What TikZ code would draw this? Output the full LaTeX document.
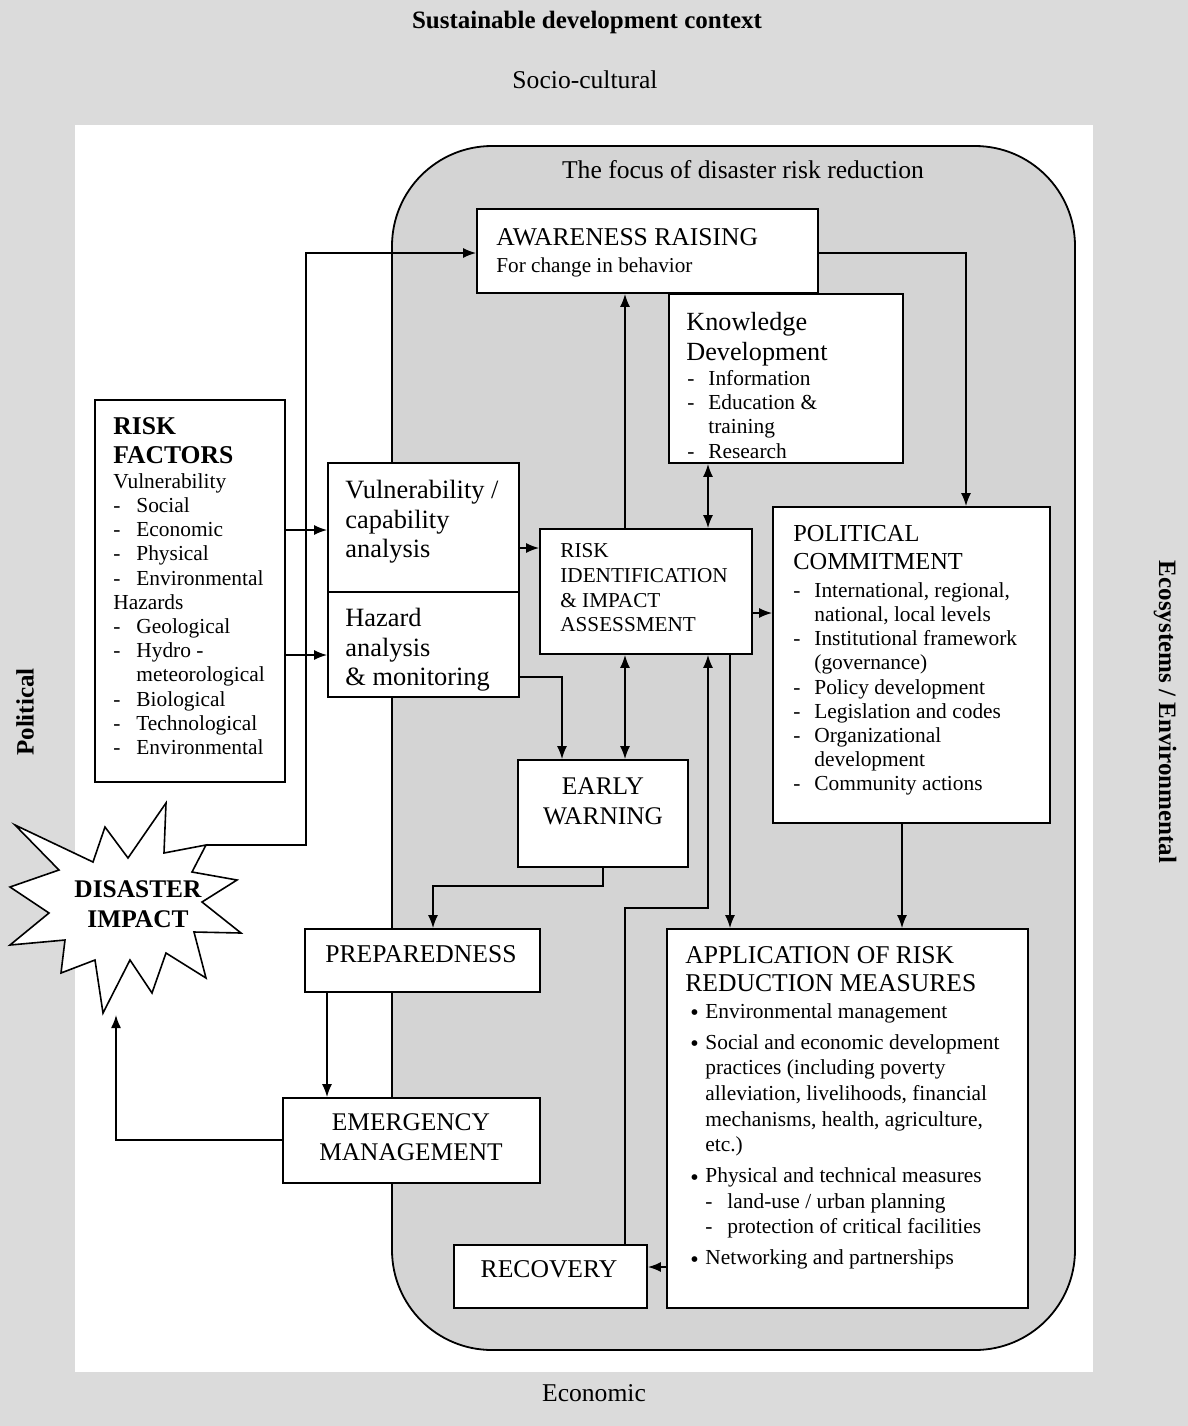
\documentclass[tikz,border=0pt]{standalone}
\usepackage{fontspec}
\setmainfont{Liberation Serif}
\usetikzlibrary{arrows.meta,fit}

% list helpers: dash item, continuation indent, bullet item
\newcommand\dashit[1][10.5pt]{\makebox[#1][l]{-}}
\newcommand\contit[1][10.5pt]{\hspace*{#1}}
\newcommand\bulit{\makebox[7.5pt][l]{\raisebox{-1.3pt}{\large\textbullet}}}

\begin{document}
\begin{tikzpicture}[x=0.5pt,y=-0.5pt,
  box/.style={draw, line width=0.9pt, fill=white, inner sep=0pt},
  conn/.style={line width=0.8pt},
  tip/.tip={Latex[length=6.5pt,width=5pt]},
  arr/.style={conn, -tip},
  dbl/.style={conn, tip-tip},
  head/.style={font=\fontsize{12.8}{14}\selectfont, align=left, inner sep=0pt, anchor=north west},
  body/.style={font=\fontsize{10.7}{12.1}\selectfont, align=left, inner sep=0pt, anchor=north west},
  ctr/.style={font=\fontsize{12.8}{15}\selectfont, align=center, inner sep=0pt, anchor=north},
  lbl/.style={font=\fontsize{12.8}{14}\selectfont, inner sep=0pt},
]
% context bands and inner field
\path[use as bounding box] (0,0) rectangle (1188,1426);
\fill[black!14] (0,0) rectangle (1188,1426);
\fill[white] (75,125) rectangle (1093,1372);
\draw[line width=0.9pt, fill=black!17, rounded corners=50pt] (392,146) rectangle (1075,1350);

% context labels
\node[lbl, font=\bfseries\fontsize{12.5}{14}\selectfont] (sdc) at (587,22) {Sustainable development context};
\node[lbl] (soc) at (585,80) {Socio-cultural};
\node[lbl] (foc) at (743,170) {The focus of disaster risk reduction};
\node[lbl] (eco) at (594,1393) {Economic};
\node[lbl, font=\bfseries\fontsize{12.5}{14}\selectfont, rotate=90] (pol) at (25,712) {Political};
\node[lbl, font=\bfseries\fontsize{12.5}{14}\selectfont, rotate=-90] (env) at (1165,712) {Ecosystems / Environmental};

% boxes
\node[box, fit={(477,209)(818,293)}] (aw) {};
\node[box, fit={(669,294)(903,463)}] (kd) {};
\node[box, fit={(95,400)(285,782)}] (rf) {};
\node[box, fit={(328,463)(519,592)}] (va) {};
\node[box, fit={(328,592)(519,697)}] (ha) {};
\node[box, fit={(540,529)(752,654)}] (ri) {};
\node[box, fit={(518,760)(688,867)}] (ew) {};
\node[box, fit={(773,507)(1050,823)}] (pc) {};
\node[box, fit={(305,929)(540,992)}] (pr) {};
\node[box, fit={(283,1098)(540,1183)}] (em) {};
\node[box, fit={(667,929)(1028,1308)}] (ap) {};
\node[box, fit={(454,1245)(647,1308)}] (rc) {};

% disaster impact burst
\draw[line width=0.8pt, fill=white]
  (15,825) -- (93,862) -- (105,827) -- (128,858) -- (166,803) -- (164,853)
  -- (206,845) -- (192,872) -- (237,880) -- (202,902) -- (241,933) -- (194,932)
  -- (206,978) -- (166,953) -- (152,993) -- (130,960) -- (103,1013) -- (95,960)
  -- (61,973) -- (65,940) -- (10,945) -- (49,913) -- (10,887) -- (59,870) -- cycle;
\coordinate (burstne) at (206,845);
\coordinate (burstin) at (116,1015);
\node[ctr, font=\bfseries\fontsize{12.7}{15}\selectfont] (dit) at (138,880) {DISASTER\\IMPACT};

% box texts
\node[head] (awh) at (496,228) {AWARENESS RAISING};
\node[body, font=\fontsize{10.6}{12}\selectfont] (aws) at (496,257) {For change in behavior};

\node[head, font=\fontsize{13.1}{15}\selectfont] (kdh) at (686,312) {Knowledge\\Development};
\node[body] (kdb) at (687,370) {\dashit Information\\\dashit Education \&\\\contit training\\\dashit Research};

\node[head, font=\bfseries\fontsize{12.8}{14.5}\selectfont] (rfh) at (113,417) {RISK\\FACTORS};
\node[body] (rfb) at (113,473) {Vulnerability\\
  \dashit[11.5pt]Social\\
  \dashit[11.5pt]Economic\\
  \dashit[11.5pt]Physical\\
  \dashit[11.5pt]Environmental\\
  Hazards\\
  \dashit[11.5pt]Geological\\
  \dashit[11.5pt]Hydro -\\
  \contit[11.5pt]meteorological\\
  \dashit[11.5pt]Biological\\
  \dashit[11.5pt]Technological\\
  \dashit[11.5pt]Environmental};

\node[head, font=\fontsize{13.2}{14.8}\selectfont] (vat) at (345,480) {Vulnerability /\\capability\\analysis};
\node[head, font=\fontsize{13.2}{14.8}\selectfont] (hat) at (345,608) {Hazard\\analysis\\\& monitoring};

\node[body, font=\fontsize{10.6}{12.4}\selectfont] (rit) at (560,543) {RISK\\IDENTIFICATION\\\& IMPACT\\ASSESSMENT};

\node[ctr, font=\fontsize{12.7}{15}\selectfont] (ewt) at (603,777) {EARLY\\WARNING};

\node[head, font=\fontsize{12.2}{14}\selectfont] (pch) at (793,525) {POLITICAL\\COMMITMENT};
\node[body] (pcb) at (793,582) {\dashit International, regional,\\
  \contit national, local levels\\
  \dashit Institutional framework\\
  \contit (governance)\\
  \dashit Policy development\\
  \dashit Legislation and codes\\
  \dashit Organizational\\
  \contit development\\
  \dashit Community actions};

\node[head, font=\fontsize{12.8}{14}\selectfont] (aph) at (685,946) {APPLICATION OF RISK\\REDUCTION MEASURES};
\node[body, font=\fontsize{10.7}{12.8}\selectfont] (apb) at (690,1003) {\bulit Environmental management\\[2.7pt]
  \bulit Social and economic development\\
  \contit[7.5pt]practices (including poverty\\
  \contit[7.5pt]alleviation, livelihoods, financial\\
  \contit[7.5pt]mechanisms, health, agriculture,\\
  \contit[7.5pt]etc.)\\[2.7pt]
  \bulit Physical and technical measures\\
  \contit[7.5pt]\dashit[11pt]land-use / urban planning\\
  \contit[7.5pt]\dashit[11pt]protection of critical facilities\\[2.7pt]
  \bulit Networking and partnerships};

\node[ctr] (prt) at (421,945) {PREPAREDNESS};
\node[ctr, font=\fontsize{12.7}{15}\selectfont] (emt) at (411,1113) {EMERGENCY\\MANAGEMENT};
\node[ctr] (rct) at (549,1260) {RECOVERY};

% connectors
\draw[arr] (rf.east |- 0,530) -- (va.west |- 0,530);
\draw[arr] (rf.east |- 0,655) -- (ha.west |- 0,655);
\draw[arr] (va.east |- 0,548) -- (ri.west |- 0,548);
\draw[arr] (ha.east |- 0,677) -| (ew.north -| 562,0);
\draw[dbl] (ri.south -| 625,0) -- (ew.north -| 625,0);
\draw[arr] (ri.north -| 625,0) -- (aw.south -| 625,0);
\draw[dbl] (kd.south -| 708,0) -- (ri.north -| 708,0);
\draw[arr] (aw.east |- 0,253) -| (pc.north -| 966,0);
\draw[arr] (ri.east |- 0,613) -- (pc.west |- 0,613);
\draw[arr] (ri.south -| 730,0) -- (ap.north -| 730,0);
\draw[arr] (pc.south -| 902,0) -- (ap.north -| 902,0);
\draw[arr] (ew.south -| 603,0) -- ++(0,18) -| (pr.north -| 433,0);
\draw[arr] (pr.south -| 327,0) -- (em.north -| 327,0);
\draw[arr] (em.west |- 0,1140) -| (burstin);
\draw[arr] (ap.west |- 0,1267) -- (rc.east |- 0,1267);
\draw[arr] (rc.north -| 625,0) |- (708,908) -- (ri.south -| 708,0);
\draw[arr] (burstne) -- (burstne -| 306,0) |- (aw.west |- 0,253);
\end{tikzpicture}
\end{document}
